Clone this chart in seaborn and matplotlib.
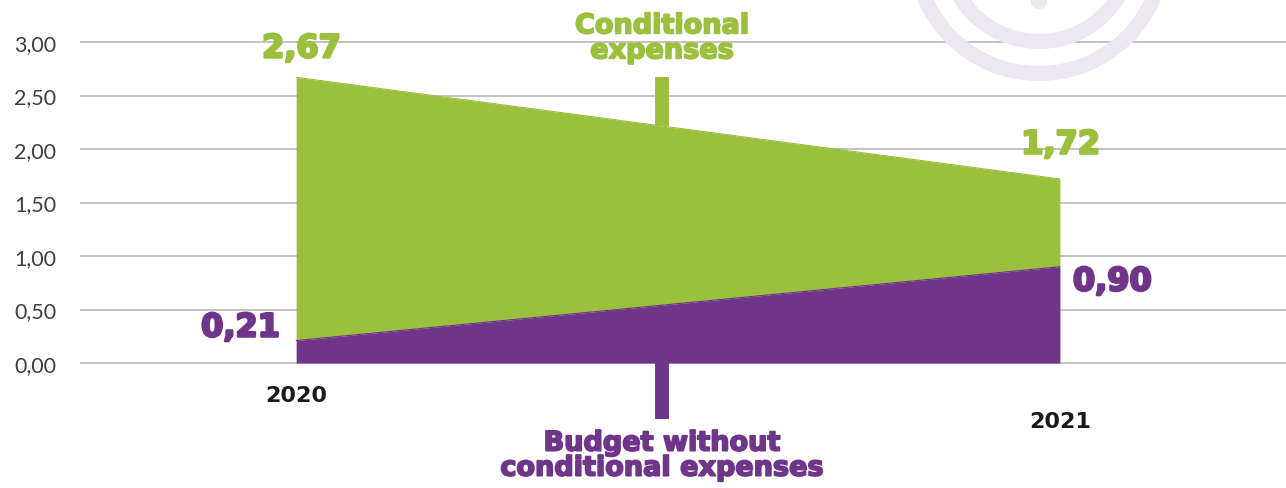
import numpy as np
import pandas as pd
import matplotlib
matplotlib.use("Agg")
import matplotlib.pyplot as plt
import matplotlib.patheffects as pe
from matplotlib.patches import Wedge, FancyBboxPatch
import seaborn as sns

# ---- data ----
years = [2020, 2021]
year_labels = ["2020", "2021"]
total = [2.67, 1.72]            # budget incl. conditional expenses
base = [0.21, 0.90]             # budget without conditional expenses
total_labels = ["2,67", "1,72"]
base_labels = ["0,21", "0,90"]
yticks = [0.0, 0.5, 1.0, 1.5, 2.0, 2.5, 3.0]
ytick_labels = ["0,00", "0,50", "1,00", "1,50", "2,00", "2,50", "3,00"]
series_names = ["Conditional\nexpenses", "Budget without\nconditional expenses"]

GREEN = "#9BC03D"
PURPLE = "#6F3589"

sns.set_theme(style="white")
plt.rcParams["font.family"] = ["Lato", "DejaVu Sans"]

fig = plt.figure(figsize=(12.86, 4.89), dpi=100)
fig.patch.set_facecolor("white")

# decorative watermark rings (top right)
wm = "#EDE7F1"
fig.patches.append(Wedge((10.39, 5.39), 1.32, 0, 360, width=0.15, facecolor=wm,
                         edgecolor="none", transform=fig.dpi_scale_trans, zorder=0))
fig.patches.append(Wedge((10.39, 5.39), 1.00, 0, 360, width=0.15, facecolor=wm,
                         edgecolor="none", transform=fig.dpi_scale_trans, zorder=0))
fig.patches.append(FancyBboxPatch((10.31, 4.71 + 0.08), 0.16, 0.6,
                                  boxstyle="round,pad=0,rounding_size=0.08",
                                  facecolor=wm, edgecolor="none",
                                  transform=fig.dpi_scale_trans, zorder=0))

ax = fig.add_axes([80 / 1286, 0, 1206 / 1286, 1])
ax.patch.set_alpha(0)

df = pd.DataFrame({"year": years, "total": total, "base": base})

ax.fill_between(df["year"], df["base"], df["total"], color=GREEN, linewidth=0, zorder=3)
ax.fill_between(df["year"], 0, df["base"], color=PURPLE, linewidth=0, zorder=3)
sns.lineplot(data=df, x="year", y="total", ax=ax, color=GREEN, linewidth=0.8, zorder=4)
sns.lineplot(data=df, x="year", y="base", ax=ax, color=PURPLE, linewidth=0.8, zorder=4)

ax.set_xlim(2019.717, 2021.296)
ax.set_ylim(-1.168, 3.402)

ax.set_yticks(yticks)
ax.set_yticklabels(ytick_labels, fontsize=15.5, color="#3f3f3f", fontweight="normal",
                   family=["Lato", "DejaVu Sans"])
ax.tick_params(axis="y", length=0, pad=17)
ax.set_xticks([])
ax.set_xlabel("")
ax.set_ylabel("")
for y in yticks:
    ax.axhline(y, color="#b3b3b3", linewidth=1.1, zorder=1)
for s in ax.spines.values():
    s.set_visible(False)

# callout markers
xm = 2020.479
ax.vlines(xm, 2.215, 2.67, color=GREEN, linewidth=10, zorder=5)
ax.vlines(xm, -0.523, 0, color=PURPLE, linewidth=10, zorder=5)


def heavy(color, w=1.3):
    return dict(fontweight="bold", family=["DejaVu Sans"],
                path_effects=[pe.withStroke(linewidth=w, foreground=color)])


ax.text(xm, 3.03, series_names[0], color=GREEN, fontsize=19.5, ha="center",
        va="center", linespacing=0.95, **heavy(GREEN))
ax.text(xm, -0.87, series_names[1], color=PURPLE, fontsize=19.5, ha="center",
        va="center", linespacing=0.95, **heavy(PURPLE))

# value labels
ax.text(years[0] + 0.007, 2.935, total_labels[0], color=GREEN, fontsize=23,
        ha="center", va="center", **heavy(GREEN, 1.8))
ax.text(years[1] + 0.001, 2.037, total_labels[1], color=GREEN, fontsize=23,
        ha="center", va="center", **heavy(GREEN, 1.8))
ax.text(years[0] - 0.021, 0.327, base_labels[0], color=PURPLE, fontsize=23,
        ha="right", va="center", **heavy(PURPLE, 1.8))
ax.text(years[1] + 0.017, 0.757, base_labels[1], color=PURPLE, fontsize=23,
        ha="left", va="center", **heavy(PURPLE, 1.8))

# year labels
ax.text(years[0], -0.299, year_labels[0], color="#1a1a1a", fontsize=16,
        fontweight="bold", ha="center", va="center", family=["DejaVu Sans"])
ax.text(years[1], -0.542, year_labels[1], color="#1a1a1a", fontsize=16,
        fontweight="bold", ha="center", va="center", family=["DejaVu Sans"])

fig.savefig("out.png", dpi=100)
